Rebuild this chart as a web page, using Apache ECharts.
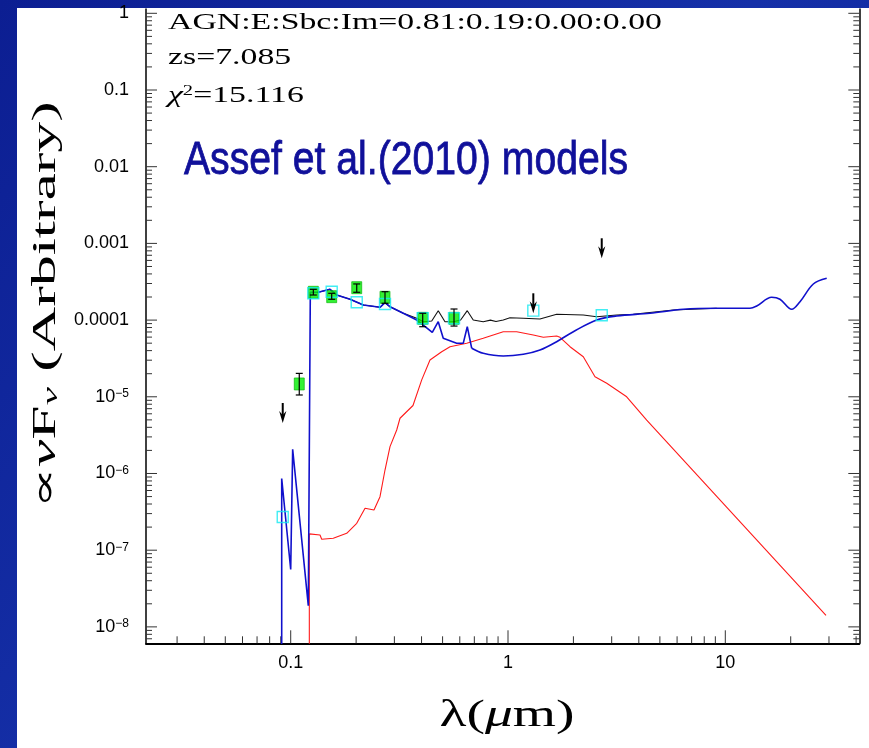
<!DOCTYPE html>
<html><head><meta charset="utf-8">
<script src="https://cdn.jsdelivr.net/npm/echarts@6/dist/echarts.min.js"></script>
<style>html,body{margin:0;padding:0;background:#0d1f96;overflow:hidden}#c{width:869px;height:748px}</style>
</head><body><div id="c"></div>
<script>
// ---------------- DATA ----------------
// AGN template (blue): UV/optical part and smooth IR part
const agnLam  = [0.0909,0.0909,0.1,0.1021,0.1205,0.1231,0.134,0.1517,0.1628,0.1875,0.2159,0.2576,0.2716,0.2864,0.3297,0.3802,0.4074,0.4483,0.4775,0.5035,0.5803,0.6223,0.6495,0.6808];
const agnFlux = [1e-9,8.6e-7,5.6e-8,2.07e-6,1.89e-8,2.3e-4,2.305e-4,2.52e-4,2.124e-4,1.867e-4,1.573e-4,1.469e-4,1.686e-4,1.495e-4,1.227e-4,1.003e-4,8.63e-5,6.93e-5,9.53e-5,5.79e-5,4.98e-5,4.98e-5,8.2e-5,4.29e-5];
const agnIrLam  = [0.6808,0.7691,0.9509,1.1764,1.403,1.675,1.998,2.559,3.163,4.503,6.41,9.128,12.99,13.95,16.35,17.85,20.21,22.07,25.41,29.29];
const agnIrFlux = [4.29e-5,3.69e-5,3.4e-5,3.58e-5,4.07e-5,5.23e-5,7.06e-5,1.003e-4,1.131e-4,1.227e-4,1.383e-4,1.425e-4,1.425e-4,1.527e-4,1.983e-4,1.867e-4,1.383e-4,1.738e-4,2.955e-4,3.51e-4];
// Total model (black)
const totLam  = [0.134,0.1517,0.1628,0.1875,0.2159,0.2576,0.2716,0.2864,0.3297,0.3802,0.4074,0.4457,0.4775,0.5129,0.56,0.6053,0.6495,0.6918,0.7691,0.83,0.88,0.9509,1.021,1.1764,1.403,1.675,2.221,2.559,3.163,3.773,5.765,9.128];
const totFlux = [2.305e-4,2.52e-4,2.124e-4,1.867e-4,1.573e-4,1.469e-4,1.686e-4,1.495e-4,1.227e-4,1.055e-4,9.53e-5,9.73e-5,1.327e-4,9.53e-5,9.53e-5,1.003e-4,1.327e-4,1.003e-4,9.53e-5,1.0e-4,9.6e-5,1.003e-4,1.075e-4,1.055e-4,1.033e-4,1.19e-4,1.165e-4,1.107e-4,1.165e-4,1.19e-4,1.355e-4,1.425e-4];
// Elliptical template (red)
const redLam  = [0.1218,0.1218,0.1364,0.1389,0.157,0.181,0.2013,0.2198,0.2417,0.2576,0.2716,0.2864,0.3075,0.3184,0.3654,0.4008,0.4375,0.4953,0.5409,0.6455,0.7691,0.9509,1.0965,1.3076,1.454,1.675,1.735,1.929,2.221,2.514,2.847,3.517,4.348,29.07];
const redFlux = [1e-9,1.63e-7,1.58e-7,1.39e-7,1.43e-7,1.66e-7,2.24e-7,3.52e-7,3.34e-7,4.98e-7,1.11e-6,2.24e-6,3.69e-6,5.25e-6,7.7e-6,1.66e-5,3.02e-5,3.87e-5,4.5e-5,4.98e-5,5.79e-5,7.06e-5,7.06e-5,6.4e-5,5.97e-5,6.21e-5,5.97e-5,4.5e-5,3.33e-5,1.83e-5,1.5e-5,1.0e-5,4.98e-6,1.41e-8];
// Observed photometry (green) with error bars
const obsLam  = [0.1095,0.1271,0.1544,0.2013,0.2716,0.405,0.5643];
const obsFlux = [1.47e-5,2.305e-4,2.02e-4,2.645e-4,1.983e-4,1.055e-4,1.055e-4];
const obsLo   = [1.056e-5,2.124e-4,1.867e-4,2.305e-4,1.656e-4,8.2e-5,8.36e-5];
const obsHi   = [2.02e-5,2.52e-4,2.236e-4,2.96e-4,2.346e-4,1.227e-4,1.395e-4];
// Model photometry (cyan open squares)
const modLam  = [0.0919,0.1271,0.1544,0.2013,0.2716,0.405,0.5643,1.3076,2.70];
const modFlux = [2.71e-7,2.236e-4,2.346e-4,1.706e-4,1.622e-4,1.055e-4,1.055e-4,1.327e-4,1.155e-4];
// Upper limits (arrows)
const limLam  = [0.0919,1.3076,2.70];
const limFlux = [8.3e-6,2.236e-4,1.166e-3];
// Axis ranges & tick labels
const xMin = 0.02158, xMax = 41.37;
const yMin = 6.11e-9, yMax = 1.138;
const xTickExp = [-1,0,1];
const xTickLabels = ['0.1','1','10'];
const yTickExp = [0,-1,-2,-3,-4,-5,-6,-7,-8];
const yTickLabels = ['1','0.1','0.01','0.001','0.0001','10{s|−5}','10{s|−6}','10{s|−7}','10{s|−8}'];
const infoLines = ['AGN:E:Sbc:Im=0.81:0.19:0.00:0.00','zs=7.085','15.116'];
const bannerText = 'Assef et al.(2010) models';

// ---------------- helpers ----------------
const zip = (a,b) => a.map((v,i)=>[v,b[i]]);
const mctx = document.createElement('canvas').getContext('2d');
function textW(t, font){ mctx.font = font; return mctx.measureText(t).width; }
const SERIF = "'Liberation Serif','DejaVu Serif',serif";
const SANS = "'Liberation Sans',Arial,sans-serif";

const xTicks = [];
for (let d=-2; d<=1; d++) for (let m=1; m<=9; m++){ const v=m*Math.pow(10,d); if (v>=xMin && v<=xMax) xTicks.push([v,yMin,m===1?1:0]); }
const yTicks = [];
for (let d=-9; d<=0; d++) for (let m=1; m<=9; m++){ const v=m*Math.pow(10,d); if (v>=yMin && v<=yMax) yTicks.push([xMin,v,m===1?1:0]); }

const hFont = '23px ' + SERIF;
const hScale = 494 / textW(infoLines[0], hFont);
const bFont = '46px ' + SANS;
const bScale = 444 / textW(bannerText, bFont);
const yFont = '33px ' + SERIF;
const yTitleW = textW('∝νF', yFont) + textW('ν', 'italic 22px '+SERIF) + textW(' (Arbitrary)', yFont);
const yScale = 408 / yTitleW;
const lFont = '38px ' + SERIF;
const lW = textW('λ(', lFont) + textW('μ', 'italic 38px '+SERIF) + textW('m)', lFont);
const lScale = 135 / lW;
const thin = {stroke:'#ffffff', lineWidth:0.9, strokeFirst:false};

const chart = echarts.init(document.getElementById('c'), null, {renderer:'canvas'});
const option = {
  animation: false,
  backgroundColor: {type:'linear', x:0, y:0, x2:1, y2:1, colorStops:[{offset:0,color:'#0c1e92'},{offset:0.5,color:'#1530a8'},{offset:1,color:'#0c1e92'}]},
  grid: {left:146, top:9, width:713.3, height:634.3, containLabel:false},
  xAxis: {
    type:'log', logBase:10, min:xMin, max:xMax,
    axisLine:{show:true, onZero:false, lineStyle:{color:'#000', width:2}},
    axisTick:{show:false}, splitLine:{show:false},
    axisLabel:{show:true, interval:0, showMinLabel:false, showMaxLabel:false, margin:11, color:'#000', fontFamily:SANS, fontSize:18,
      formatter:(v)=>{ const e=Math.round(Math.log10(v)); const i=xTickExp.indexOf(e); return (i>=0 && Math.abs(Math.log10(v)-e)<1e-6)? xTickLabels[i] : ''; }}
  },
  yAxis: [{
    type:'log', logBase:10, min:yMin, max:yMax,
    axisLine:{show:true, onZero:false, lineStyle:{color:'#000', width:1.5}},
    axisTick:{show:false}, splitLine:{show:false},
    axisLabel:{show:true, interval:0, showMinLabel:false, showMaxLabel:false, margin:17, color:'#000', fontFamily:SANS, fontSize:18,
      formatter:(v)=>{ const e=Math.round(Math.log10(v)); const i=yTickExp.indexOf(e); return (i>=0 && Math.abs(Math.log10(v)-e)<1e-6)? yTickLabels[i] : ''; },
      rich:{ s:{fontSize:12, fontFamily:SANS, color:'#000', verticalAlign:'top', lineHeight:12} }}
  },{
    type:'log', logBase:10, min:yMin, max:yMax, position:'right',
    axisLine:{show:true, onZero:false, lineStyle:{color:'#000', width:1.5}},
    axisTick:{show:false}, splitLine:{show:false}, axisLabel:{show:false}
  }],
  graphic: [
    {type:'rect', z:-10, shape:{x:17, y:8, width:852, height:740}, style:{fill:'#ffffff'}, silent:true},
    {type:'text', z:100, x:168, y:22.5, scaleX:hScale, style:Object.assign({text:infoLines[0], font:hFont, fill:'#000', verticalAlign:'middle'}, thin)},
    {type:'text', z:100, x:168, y:58, scaleX:hScale, style:Object.assign({text:infoLines[1], font:hFont, fill:'#000', verticalAlign:'middle'}, thin)},
    {type:'text', z:100, x:168, y:95.5, scaleX:hScale, style:{text:'{g|χ}{s|2}{a|=' + infoLines[2] + '}', fill:'#000', verticalAlign:'middle',
      rich:{a:Object.assign({font:hFont, fill:'#000'}, thin), g:Object.assign({font:'italic '+hFont, fill:'#000'}, thin), s:{font:'14px '+SERIF, fill:'#000', verticalAlign:'top'}}}},
    {type:'text', z:100, x:184, y:161, scaleX:bScale, style:{text:bannerText, font:bFont, fill:'#10109a', stroke:'#10109a', lineWidth:0.8, verticalAlign:'middle'}},
    {type:'text', z:100, x:46, y:305, rotation:Math.PI/2, scaleX:yScale, style:{text:'{a|∝}{g|ν}{a|F}{s|ν}{a| (Arbitrary)}', align:'center', verticalAlign:'middle',
      rich:{a:Object.assign({font:yFont, fill:'#000'}, thin), g:Object.assign({font:'italic '+yFont, fill:'#000'}, thin), s:{font:'italic 22px '+SERIF, fill:'#000', verticalAlign:'bottom'}}}},
    {type:'text', z:100, x:507, y:716, scaleX:lScale, style:{text:'{a|λ(}{g|μ}{a|m)}', align:'center', verticalAlign:'middle',
      rich:{a:Object.assign({font:lFont, fill:'#000'}, thin), g:Object.assign({font:'italic '+lFont, fill:'#000'}, thin)}}}
  ],
  series: [
    {type:'custom', name:'xticks', silent:true, z:1, data:xTicks, renderItem:(p,api)=>{
      const c=api.coord([api.value(0), yMin]); const L=api.value(2)?13:7;
      return {type:'line', shape:{x1:c[0],y1:c[1],x2:c[0],y2:c[1]-L}, style:{stroke:'#333', lineWidth:1}}; }},
    {type:'custom', name:'yticks', silent:true, z:1, data:yTicks, renderItem:(p,api)=>{
      const v=api.value(1); const a=api.coord([xMin, v]); const b=api.coord([xMax, v]); const L=api.value(2)?11:6;
      return {type:'group', children:[
        {type:'line', shape:{x1:a[0],y1:a[1],x2:a[0]+L,y2:a[1]}, style:{stroke:'#333', lineWidth:1}},
        {type:'line', shape:{x1:b[0],y1:b[1],x2:b[0]-L,y2:b[1]}, style:{stroke:'#333', lineWidth:1}}]}; }},
    {type:'line', name:'E', data:zip(redLam,redFlux), showSymbol:false, z:2, lineStyle:{color:'#ff1a1a', width:1.1}, clip:true},
    {type:'line', name:'Total', data:zip(totLam,totFlux), showSymbol:false, z:3, lineStyle:{color:'#111', width:1.1}, clip:true},
    {type:'line', name:'AGN', data:zip(agnLam,agnFlux), showSymbol:false, z:4, lineStyle:{color:'#1010cc', width:1.6}, clip:true},
    {type:'line', name:'AGN IR', data:zip(agnIrLam,agnIrFlux), showSymbol:false, smooth:0.35, z:4, lineStyle:{color:'#1010cc', width:1.6}, clip:true},
    {type:'scatter', name:'obs', data:zip(obsLam,obsFlux), symbol:'rect', symbolSize:[10,12], z:5, itemStyle:{color:'#00ee00', borderColor:'#00b000', borderWidth:0.8}},
    {type:'scatter', name:'model', data:zip(modLam,modFlux), symbol:'rect', symbolSize:[11,11], z:6, itemStyle:{color:'rgba(0,0,0,0)', borderColor:'#10e8f0', borderWidth:1.4}},
    {type:'custom', name:'err', z:7, data:obsLam.map((l,i)=>[l,obsLo[i],obsHi[i]]), renderItem:(p,api)=>{
      const a=api.coord([api.value(0),api.value(1)]); const b=api.coord([api.value(0),api.value(2)]); const w=3.5;
      return {type:'group', children:[
        {type:'line', shape:{x1:a[0],y1:a[1],x2:b[0],y2:b[1]}, style:{stroke:'#000', lineWidth:1.2}},
        {type:'line', shape:{x1:a[0]-w,y1:a[1],x2:a[0]+w,y2:a[1]}, style:{stroke:'#000', lineWidth:1.2}},
        {type:'line', shape:{x1:b[0]-w,y1:b[1],x2:b[0]+w,y2:b[1]}, style:{stroke:'#000', lineWidth:1.2}}]}; }},
    {type:'custom', name:'limits', z:8, data:zip(limLam,limFlux), renderItem:(p,api)=>{
      const c=api.coord([api.value(0),api.value(1)]); const x=c[0], y=c[1];
      return {type:'group', children:[
        {type:'line', shape:{x1:x,y1:y,x2:x,y2:y+15}, style:{stroke:'#000', lineWidth:2}},
        {type:'polygon', shape:{points:[[x-3.6,y+8],[x,y+20],[x+3.6,y+8],[x,y+12]]}, style:{fill:'#000'}}]}; }}
  ]
};
chart.setOption(option);
</script></body></html>
